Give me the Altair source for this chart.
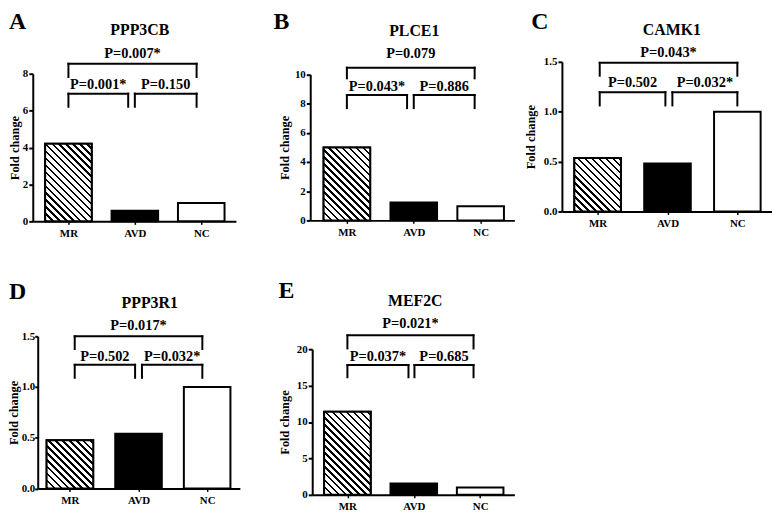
import altair as alt
import pandas as pd

# ---------------- data ----------------
groups = ["MR", "AVD", "NC"]
letters = ["A", "B", "C", "D", "E"]
genes = ["PPP3CB", "PLCE1", "CAMK1", "PPP3R1", "MEF2C"]

fold_ppp3cb = [4.2, 0.58, 1.0]
fold_plce1 = [5.0, 1.22, 0.97]
fold_camk1 = [0.535, 0.48, 1.0]
fold_ppp3r1 = [0.475, 0.54, 1.0]
fold_mef2c = [11.4, 1.55, 1.0]
folds = [fold_ppp3cb, fold_plce1, fold_camk1, fold_ppp3r1, fold_mef2c]

p_mr_avd = ["P=0.001*", "P=0.043*", "P=0.502", "P=0.502", "P=0.037*"]
p_avd_nc = ["P=0.150", "P=0.886", "P=0.032*", "P=0.032*", "P=0.685"]
p_mr_nc = ["P=0.007*", "P=0.079", "P=0.043*", "P=0.017*", "P=0.021*"]

y_max = [8, 10, 1.5, 1.5, 20]
y_ticks = [[0, 2, 4, 6, 8], [0, 2, 4, 6, 8, 10], [0, 0.5, 1.0, 1.5],
           [0, 0.5, 1.0, 1.5], [0, 5, 10, 15, 20]]
y_formats = ["d", "d", ".1f", ".1f", "d"]

# bracket heights in fold-change units:
# top line, top ends, lower line, lower ends, top label, lower labels
bracket_levels = [
    [8.54, 7.82, 6.92, 6.21, 9.07, 7.37],
    [10.46, 9.73, 8.59, 7.69, 11.43, 9.16],
    [1.49, 1.361, 1.195, 1.063, 1.59, 1.285],
    [1.5, 1.375, 1.219, 1.091, 1.605, 1.294],
    [21.9, 20.1, 17.82, 16.15, 23.4, 18.95],
]
# bracket ends along the category axis: MR, AVD (left), AVD (right), NC
bracket_ends = [
    [0.0, 0.90, 1.0, 1.93],
    [0.0, 0.90, 1.0, 1.91],
    [0.03, 0.97, 1.07, 2.0],
    [0.07, 0.95, 1.05, 1.93],
    [0.0, 0.92, 1.01, 1.90],
]

# ---------------- layout / style ----------------
FONT = "Liberation Serif"
panel_w = [280, 254, 212, 280, 254]
panel_h = [161, 161, 161, 160, 160]
x_range = [[0, 205], [0, 206], [0, 212], [5, 209], [2, 206]]
x_domain = [[-0.537, 2.522], [-0.548, 2.504], [-0.511, 2.496],
            [-0.469, 2.477], [-0.530, 2.515]]
y_range = [[161, 12], [160, 12.7], [151, 0], [153.5, 0], [160, 13]]
ytitle_x = [-11.5, -18.5, -25, -17, -20.5]
ytick_size = [4, 4, 4, 3, 4]
ylabel_pad = [1, 1, 1, 0, 1]
title_pos = [(108, -32), (105, -31), (111, -32.5), (118, -34), (106, -36)]
letter_pos = [(-24, -52), (-37, -52), (-31, -52), (-24, -57), (-32, -58)]
BAR_W = 47


def hatch(w, h, step=7.0, frac=0.36):
    """Diagonal '\\' hatching as a hard-stop linear gradient."""
    t = w * (w + h) / (w * w + h * h)
    n = (w + h) / step
    stops = []
    k = 0
    while k / n < 1:
        a = round(k / n, 5)
        b = round(min((k + frac) / n, 1), 5)
        c = round(min((k + 1) / n, 1), 5)
        stops += [alt.GradientStop(offset=a, color="black"),
                  alt.GradientStop(offset=b, color="black"),
                  alt.GradientStop(offset=b, color="white"),
                  alt.GradientStop(offset=c, color="white")]
        k += 1
    return alt.LinearGradient(gradient="linear", stops=stops,
                              x1=0, y1=1, x2=round(t, 5),
                              y2=round(1 - t * h / w, 5))


label_expr = "[" + ",".join(f"'{g}'" for g in groups) + "][datum.value]"


def make_panel(i):
    xs = alt.Scale(domain=x_domain[i], range=x_range[i], nice=False,
                   zero=False, padding=0)
    ys = alt.Scale(domain=[0, y_max[i]], range=y_range[i], nice=False,
                   zero=True)
    x_axis = alt.Axis(values=[0, 1, 2], labelExpr=label_expr, title=None,
                      grid=False, domainColor="black", domainWidth=2,
                      tickColor="black", tickWidth=1.5, tickSize=3,
                      labelFont=FONT, labelFontWeight="bold",
                      labelFontSize=11, labelColor="black", labelPadding=3,
                      labelFlush=False, labelOverlap=False,
                      offset=y_range[i][0] - panel_h[i])
    y_axis = alt.Axis(values=y_ticks[i], format=y_formats[i],
                      title="Fold change", titleFont=FONT,
                      titleFontWeight="bold", titleFontSize=12.5,
                      titleColor="black", titleX=ytitle_x[i],
                      grid=False, domainColor="black", domainWidth=2,
                      tickColor="black", tickWidth=2, tickSize=ytick_size[i],
                      labelFont=FONT, labelFontWeight="bold",
                      labelFontSize=11, labelColor="black",
                      labelPadding=ylabel_pad[i], labelFlush=False,
                      labelOverlap=False, offset=-x_range[i][0])

    bars = pd.DataFrame({"group": groups, "pos": [0, 1, 2],
                         "fold": folds[i]})
    xenc = alt.X("pos:Q", scale=xs, axis=x_axis)
    yenc = alt.Y("fold:Q", scale=ys, axis=y_axis)

    bar_layer = alt.Chart(bars).mark_bar(
        width=BAR_W, stroke="black", strokeWidth=2
    ).encode(
        x=xenc, y=yenc,
        fill=alt.Fill("group:N", scale=alt.Scale(domain=groups,
                      range=["white", "black", "white"]), legend=None),
    )

    mr_h = folds[i][0] / y_max[i] * (y_range[i][0] - y_range[i][1])
    hatch_layer = alt.Chart(bars).transform_filter(
        alt.datum.group == groups[0]
    ).mark_bar(
        width=BAR_W, stroke="black", strokeWidth=2,
        fill=hatch(BAR_W, mr_h)
    ).encode(x=xenc, y=yenc)

    mr, avl, avr, nc = bracket_ends[i]
    th, tl, lh, ll, tt, lt = bracket_levels[i]
    segs = pd.DataFrame({
        "xa": [mr, mr, avl, avr, avr, nc, mr, mr, nc],
        "xb": [avl, mr, avl, nc, avr, nc, nc, mr, nc],
        "ya": [lh, lh, lh, lh, lh, lh, th, th, th],
        "yb": [lh, ll, ll, lh, ll, ll, th, tl, tl],
    })
    rule_layer = alt.Chart(segs).mark_rule(
        color="black", strokeWidth=2, strokeCap="square"
    ).encode(
        x=alt.X("xa:Q", scale=xs, axis=x_axis), x2="xb:Q",
        y=alt.Y("ya:Q", scale=ys, axis=y_axis), y2="yb:Q",
    )

    ptxt = pd.DataFrame({
        "label": [p_mr_nc[i], p_mr_avd[i], p_avd_nc[i]],
        "tx": [(mr + nc) / 2, (mr + avl) / 2, (avr + nc) / 2],
        "ty": [tt, lt, lt],
    })
    p_layer = alt.Chart(ptxt).mark_text(
        font=FONT, fontWeight="bold", fontSize=14.5, color="black",
        align="center", baseline="middle"
    ).encode(
        x=alt.X("tx:Q", scale=xs, axis=x_axis),
        y=alt.Y("ty:Q", scale=ys, axis=y_axis),
        text="label:N",
    )

    tdf = pd.DataFrame({"gene": [genes[i]], "letter": [letters[i]]})
    title_layer = alt.Chart(tdf).mark_text(
        font=FONT, fontWeight="bold", fontSize=16, color="black",
        align="center", baseline="middle"
    ).encode(x=alt.value(title_pos[i][0]), y=alt.value(title_pos[i][1]),
             text="gene:N")
    letter_layer = alt.Chart(tdf).mark_text(
        font=FONT, fontWeight="bold", fontSize=24, color="black",
        align="left", baseline="top"
    ).encode(x=alt.value(letter_pos[i][0]), y=alt.value(letter_pos[i][1]),
             text="letter:N")

    return alt.layer(bar_layer, hatch_layer, rule_layer, p_layer,
                     title_layer, letter_layer).properties(
        width=panel_w[i], height=panel_h[i])


chart = alt.concat(
    *[make_panel(i) for i in range(5)],
    columns=3,
    spacing=alt.RowColnumber(row=116, column=0),
    bounds="flush",
    align="each",
    padding={"left": 0, "top": 0, "right": 0, "bottom": 0},
).configure_view(stroke=None)

chart.save("out.html", embed_options={"renderer": "svg", "actions": False})
